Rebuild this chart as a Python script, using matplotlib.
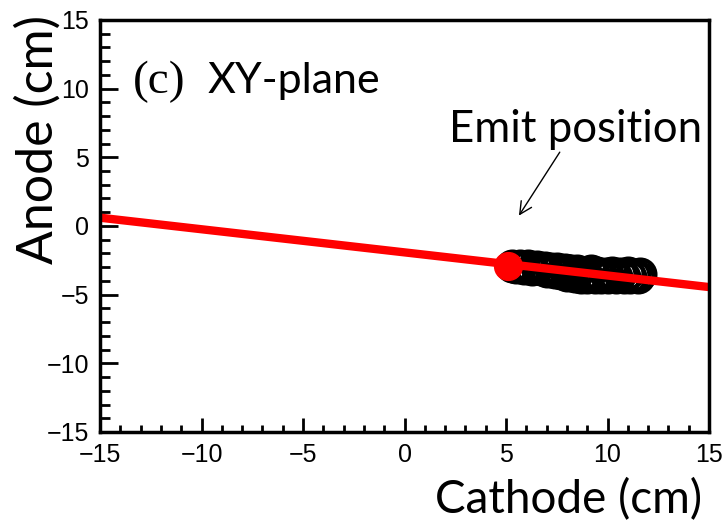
import matplotlib
matplotlib.use("Agg")
import matplotlib.pyplot as plt
from matplotlib.ticker import MultipleLocator

# reconstructed track hits (cathode, anode) in cm
hit_x = [5.3, 5.5, 5.7, 5.9, 6.1, 6.3, 6.5, 6.7, 6.9, 7.0, 7.2, 7.4, 7.5, 7.7,
         7.9, 8.0, 8.1, 8.2, 8.4, 8.5, 8.7, 8.8, 8.9, 9.0, 9.2, 9.4, 9.5,
         9.6, 9.7, 9.9, 10.0, 10.2, 10.4, 10.6, 10.8, 11.0, 11.1, 11.3,
         11.5, 11.6]
hit_y = [-2.9, -3.0, -2.9, -3.05, -2.95, -3.1, -3.0, -3.15, -3.05, -3.3,
         -3.1, -3.35, -3.15, -3.4, -3.2, -3.55, -3.3, -3.3, -3.65, -3.25,
         -3.75, -3.55, -3.4, -3.75, -3.3, -3.7, -3.45, -3.6, -3.75, -3.5,
         -3.7, -3.45, -3.75, -3.5, -3.7, -3.45, -3.75, -3.55, -3.7, -3.5]

# fitted track
fit_x = [-15, 15]
fit_y = [0.6, -4.45]

# emission point
emit_x = [5.1]
emit_y = [-2.9]

fig = plt.figure(figsize=(7.25, 5.23), dpi=100)
ax = fig.add_axes([0.138, 0.174, 0.840, 0.788])

ax.plot(hit_x, hit_y, linestyle='none', marker='o', markersize=21.5,
        markerfacecolor='none', markeredgecolor='black', markeredgewidth=3)
ax.plot(fit_x, fit_y, color='#ff0000', linewidth=6, solid_capstyle='butt')
ax.plot(emit_x, emit_y, linestyle='none', marker='o', markersize=20,
        color='#ff0000')

ax.set_xlim(-15, 15)
ax.set_ylim(-15, 15)

ax.xaxis.set_major_locator(MultipleLocator(5))
ax.xaxis.set_minor_locator(MultipleLocator(1))
ax.yaxis.set_major_locator(MultipleLocator(5))
ax.yaxis.set_minor_locator(MultipleLocator(1))
ax.tick_params(which='both', direction='in', width=2, top=False, right=False,
               labelsize=18, pad=8)
ax.tick_params(axis='x', which='major', length=10)
ax.tick_params(axis='x', which='minor', length=5)
ax.tick_params(axis='y', which='major', length=13)
ax.tick_params(axis='y', which='minor', length=7)
for lab in ax.get_xticklabels() + ax.get_yticklabels():
    lab.set_family('Liberation Sans')
for side in ax.spines.values():
    side.set_linewidth(2.5)

ax.text(-13.4, 9.7, '(c)', family='Liberation Serif', fontsize=34,
        va='baseline')
ax.text(-9.7, 9.7, 'XY-plane', family='Lato', fontsize=31, va='baseline')
ax.text(2.2, 6.1, 'Emit position', family='Lato', fontsize=31.5, va='baseline')
ax.annotate('', xy=(5.56, 0.58), xytext=(7.72, 5.54),
            arrowprops=dict(arrowstyle='->', color='black', lw=1,
                            mutation_scale=22))

fig.text(702 / 725, 10 / 523, 'Cathode (cm)', family='Lato', fontsize=33,
         ha='right', va='baseline')
fig.text(15 / 725, 1 - 15 / 523, 'Anode (cm)', family='Lato', fontsize=36,
         rotation=90, ha='left', va='top')

fig.savefig('out.png', dpi=100)
